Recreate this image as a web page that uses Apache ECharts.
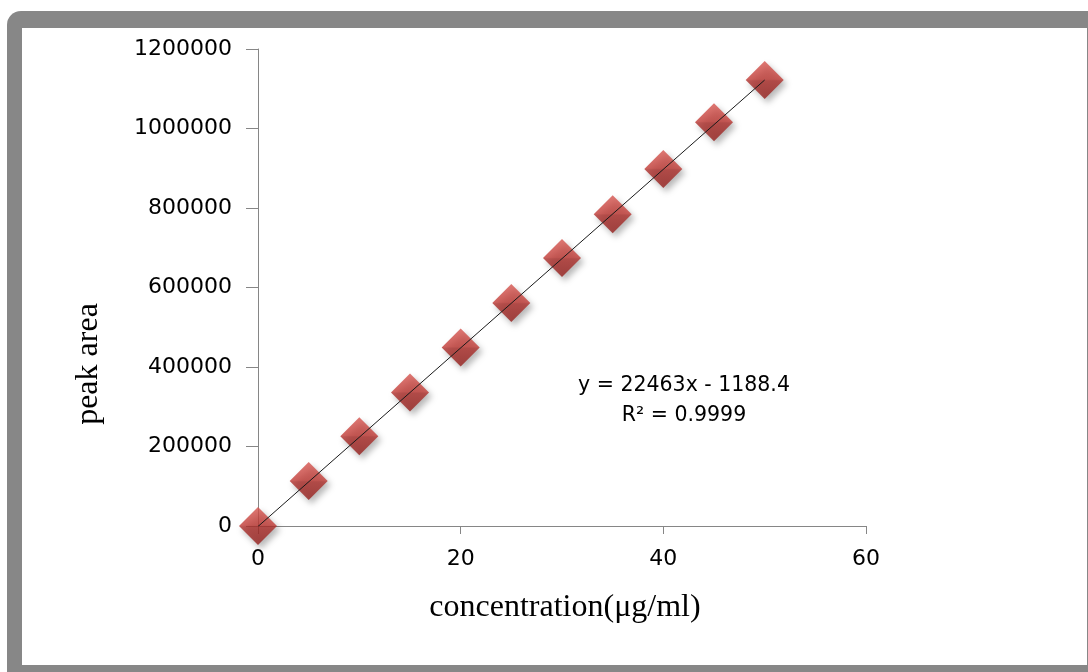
<!DOCTYPE html>
<html>
<head>
<meta charset="utf-8">
<style>
  html, body { margin: 0; padding: 0; background: #fff; }
  #chart { width: 1088px; height: 672px; }
</style>
<script src="https://cdn.jsdelivr.net/npm/echarts@6/dist/echarts.min.js"></script>
</head>
<body>
<div id="chart"></div>
<script>
const concentration = [0, 5, 10, 15, 20, 25, 30, 35, 40, 45, 50]
const peakArea = [0, 113000, 226000, 336000, 449000, 561000, 674000, 784000, 898000, 1016000, 1122000]
// trend line end points, from y = 22463x - 1188.4
const trendX = [0, 50]
const trendY = [-1188.4, 1121961.6]
const equationText = 'y = 22463x - 1188.4'
const r2Text = 'R² = 0.9999'
const xName = 'concentration(μg/ml)'
const yName = 'peak area'

const axisColor = '#868686'
const sans = '"DejaVu Sans", sans-serif'
const serif = '"Liberation Serif", "DejaVu Serif", serif'

let chart = echarts.init(document.getElementById('chart'))

let markerFill = new echarts.graphic.LinearGradient(0, 0, 0, 1, [
  { offset: 0, color: '#d6554f' },
  { offset: 0.48, color: '#c23b36' },
  { offset: 0.52, color: '#ae2f2b' },
  { offset: 1, color: '#941f1c' }
])

let option = {
  animation: false,
  graphic: [
    {
      type: 'rect',
      z: -10,
      shape: { x: 7, y: 11, width: 1090, height: 670, r: [14, 0, 0, 0] },
      style: { fill: '#878787' }
    },
    {
      type: 'rect',
      z: -9,
      shape: { x: 22, y: 28, width: 1065, height: 637 },
      style: { fill: '#ffffff' }
    },
    {
      type: 'text',
      x: 684,
      y: 386,
      style: { text: equationText, font: '20.5px ' + sans, fill: '#000', align: 'center', verticalAlign: 'middle' }
    },
    {
      type: 'text',
      x: 684,
      y: 416,
      style: { text: r2Text, font: '20.5px ' + sans, fill: '#000', align: 'center', verticalAlign: 'middle' }
    },
    {
      type: 'text',
      x: 565,
      y: 608,
      style: { text: xName, font: '32px ' + serif, fill: '#000', align: 'center', verticalAlign: 'middle' }
    },
    {
      type: 'text',
      x: 89,
      y: 364,
      rotation: Math.PI / 2,
      style: { text: yName, font: '32px ' + serif, fill: '#000', align: 'center', verticalAlign: 'middle' }
    }
  ],
  grid: {
    left: 258,
    top: 49,
    right: 222,
    bottom: 146,
    containLabel: false
  },
  xAxis: {
    type: 'value',
    min: 0,
    max: 60,
    interval: 20,
    axisLine: { lineStyle: { color: axisColor, width: 1 } },
    axisTick: { show: true, inside: false, length: 8, lineStyle: { color: axisColor } },
    axisLabel: { color: '#000', fontSize: 22, fontFamily: sans, margin: 22 },
    splitLine: { show: false }
  },
  yAxis: {
    type: 'value',
    min: 0,
    max: 1200000,
    interval: 200000,
    axisLine: { show: true, lineStyle: { color: axisColor, width: 1 } },
    axisTick: { show: true, inside: false, length: 12, lineStyle: { color: axisColor } },
    axisLabel: {
      color: '#000',
      fontSize: 22,
      fontFamily: sans,
      margin: 26,
      formatter: v => String(v)
    },
    splitLine: { show: false }
  },
  series: [
    {
      type: 'scatter',
      symbol: 'diamond',
      symbolSize: 38,
      z: 2,
      data: concentration.map((c, i) => [c, peakArea[i]]),
      itemStyle: {
        color: markerFill,
        shadowColor: 'rgba(0, 0, 0, 0.35)',
        shadowBlur: 6,
        shadowOffsetX: 3,
        shadowOffsetY: 4
      }
    },
    {
      type: 'line',
      z: 3,
      symbol: 'none',
      data: trendX.map((x, i) => [x, trendY[i]]),
      lineStyle: { color: '#1a1a1a', width: 1 }
    }
  ]
}

chart.setOption(option)
</script>
</body>
</html>
